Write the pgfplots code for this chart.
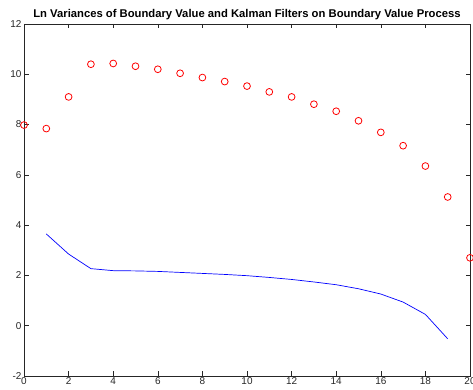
\documentclass[border=0pt]{standalone}
\usepackage{pgfplots}
\pgfplotsset{compat=1.18}
\usepackage{fontspec}
\setmainfont{Liberation Sans}
\usetikzlibrary{calc}
\definecolor{axgray}{gray}{0.15}
\begin{document}
\begin{tikzpicture}[x=1bp,y=1bp]
\begin{axis}[name=ax,
  scale only axis, width=446bp, height=352bp,
  xmin=0, xmax=20, ymin=-2, ymax=12,
  xtick={0,2,...,20}, ytick={-2,0,...,12},
  tick align=inside, major tick length=4.5bp,
  axis line style={axgray, line width=0.6pt},
  tick style={axgray, line width=0.6pt},
  ticklabel style={font=\fontsize{10}{11}\selectfont, text=axgray},
  /pgf/number format/assume math mode=true,
  xticklabel style={yshift=1.5bp},
  yticklabel style={xshift=1bp},
  title={\textbf{Ln Variances of Boundary Value and Kalman Filters on Boundary Value Process}},
  title style={font=\fontsize{11.3}{12}\selectfont, yshift=-5bp},
  clip=false,
]
\addplot[only marks, mark=o, red, mark size=3.4bp, mark options={line width=0.8pt}] coordinates {
(0,7.98) (1,7.84) (2,9.10) (3,10.40) (4,10.43) (5,10.32) (6,10.20) (7,10.04)
(8,9.87) (9,9.71) (10,9.53) (11,9.30) (12,9.10) (13,8.81) (14,8.53) (15,8.15)
(16,7.69) (17,7.16) (18,6.35) (19,5.12) (20,2.70)};
\addplot[blue, line width=0.7pt] coordinates {
(1,3.65) (2,2.85) (3,2.27) (4,2.19) (5,2.18) (6,2.16) (7,2.12) (8,2.08) (9,2.04)
(10,1.99) (11,1.92) (12,1.84) (13,1.74) (14,1.63) (15,1.47) (16,1.26) (17,0.94)
(18,0.45) (19,-0.52)};
\end{axis}
\pgfresetboundingbox
\path ($(ax.south west)+(-24bp,-14bp)$) rectangle ($(ax.north east)+(3bp,24bp)$);
\end{tikzpicture}
\end{document}
